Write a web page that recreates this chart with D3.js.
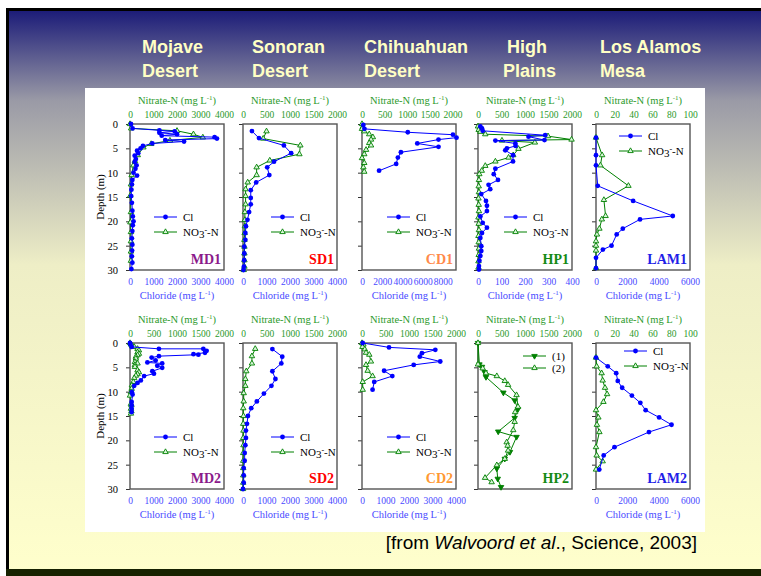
<!DOCTYPE html>
<html>
<head>
<meta charset="utf-8">
<script src="https://cdn.jsdelivr.net/npm/d3@7"></script>
<style>
  body { margin: 0; overflow: hidden; background: #fff; }
  svg { display: block; }
</style>
</head>
<body>
<svg id="slide" width="761" height="576"></svg>
<script>
// ---- data: [depth (m), concentration (mg/L)] ----
const depthTicks = [0, 5, 10, 15, 20, 25, 30];
const ticks4000 = [0, 1000, 2000, 3000, 4000];
const ticks2000 = [0, 500, 1000, 1500, 2000];
const ticks8000 = [0, 2000, 4000, 6000, 8000];
const ticks400 = [0, 100, 200, 300, 400];
const ticks6000 = [0, 2000, 4000, 6000];
const ticks100 = [0, 20, 40, 60, 80, 100];

const titles = [["Mojave", "Desert"], ["Sonoran", "Desert"], ["Chihuahuan", "Desert"], ["High", "Plains"], ["Los Alamos", "Mesa"]];

const md1Cl = [[0,40],[0.9,110],[1.3,1250],[1.5,1900],[1.8,1250],[2.1,2000],[2.4,1350],[2.7,3600],[3.0,3700],[3.3,1500],[3.6,2300],[4.0,950],[4.5,550],[5.0,450],[5.5,300],[6.0,350],[6.5,200],[7.2,250],[7.8,200],[8.5,280],[9.2,230],[10.0,150],[10.6,300],[11.5,100],[12.4,80],[13.5,60],[14.8,50],[16.2,80],[17.8,100],[19.0,120],[20.0,150],[20.8,120],[22.0,100],[23.5,80],[24.8,100],[26.0,90],[27.2,80],[28.5,100],[29.8,60]];
const md1No3 = [[0,0],[0.9,50],[1.4,2000],[2.1,2700],[2.75,3100],[3.4,1700],[4.1,900],[4.8,570],[6.4,330],[7.6,210],[8.5,140],[10.5,70],[12.4,40],[14.7,15],[18.1,40],[20.2,15],[22.2,40],[24.1,40],[26.2,40],[28.1,40]];

const sd1Cl = [[1.45,380],[2.9,680],[4.4,1740],[6.0,2050],[7.75,1320],[8.9,1030],[10.5,1120],[12.0,560],[13.6,330],[15.2,330],[16.5,330],[18.1,260],[19.7,190],[21.0,125],[22.4,100],[23.8,100],[25.2,55],[26.6,55],[28.0,50],[29.3,40],[30,20]];
const sd1No3 = [[1.5,500],[3.0,430],[4.4,1220],[6.2,1200],[7.5,570],[8.9,290],[10.5,290],[12.0,100],[13.4,55],[14.8,55],[16.5,55],[18.1,40],[19.7,40],[21.0,40],[22.4,35],[23.8,30],[25.2,30],[26.6,30],[28.0,30],[29.3,30],[30,15]];

const cd1Cl = [[0.2,130],[1.0,240],[1.7,4530],[2.2,9000],[2.8,9350],[3.2,7570],[4.0,5470],[4.7,7570],[5.8,3850],[6.9,3550],[8.2,3380],[9.6,1690]];
const cd1No3 = [[0,0],[0.6,15],[1.0,0],[1.5,50],[2.1,160],[2.7,240],[3.2,200],[3.9,160],[4.4,200],[5.3,90],[6.2,50],[7.0,0],[8.0,50],[8.9,30],[9.8,50]];

const hp1Cl = [[0.5,10],[0.9,17],[1.4,20],[2.3,286],[2.6,215],[3.3,283],[3.4,74],[4.0,159],[4.5,160],[5.0,123],[5.4,116],[6.4,149],[7.7,149],[9.2,74],[10.3,67],[11.5,85],[12.5,45],[13.4,52],[14.4,14],[15.8,34],[16.8,38],[17.9,38],[19.0,10],[20.3,20],[21.3,38],[22.4,17],[23.4,10],[25.1,14],[26.1,14],[27.1,10],[28.1,6],[29.2,4],[29.9,4]];
const hp1No3 = [[0.5,0],[1.2,15],[1.6,50],[2.1,155],[2.5,1490],[3.2,1990],[3.4,510],[3.8,1210],[5.1,860],[6.4,750],[6.9,650],[7.7,370],[8.6,155],[9.6,80],[10.3,28],[11.5,20],[12.8,15],[14.0,20],[15.3,10],[16.6,15],[17.9,20],[19.2,10],[20.5,15],[21.8,20],[23.0,10],[24.3,15],[25.6,20],[26.9,15],[28.2,10],[29.5,10]];

const lam1Cl = [[2.8,0],[6.4,0],[8.5,0],[12.7,110],[15.8,2370],[18.9,4900],[19.6,2810],[21.5,1710],[22.7,1320],[25.0,990],[25.8,440],[27.5,0],[29.6,0]];
const lam1No3 = [[2.8,0],[6.4,6.5],[8.5,4.7],[12.7,34.5],[15.6,8.4],[18.9,10.2],[19.6,6.2],[21.5,3.6],[22.7,1],[24.1,0],[25.0,0],[26.0,0],[29.6,0]];

const md2Cl = [[0,0],[0.3,20],[0.8,70],[1.2,1230],[1.2,3120],[1.6,3260],[2.0,3190],[2.3,2700],[2.4,2910],[2.7,1230],[3.0,920],[3.6,1090],[4.0,740],[4.2,1370],[4.7,1160],[5.1,1370],[5.8,950],[6.3,1020],[6.8,600],[7.7,460],[8.2,320],[8.8,180],[10.1,80],[10.6,110],[12.1,70],[12.8,70],[13.5,70],[14.2,70]];
const md2No3 = [[0,0],[0.3,20],[0.6,50],[0.8,90],[1.2,160],[1.5,190],[1.9,160],[2.2,190],[2.5,160],[2.8,125],[3.2,125],[3.9,105],[4.2,160],[4.5,105],[4.9,105],[5.6,160],[6.0,190],[6.4,160],[6.7,125],[7.2,90],[8.0,70],[8.7,40],[9.4,35],[10.1,20],[10.8,0],[12.5,20],[12.8,30],[13.5,20],[14.0,30],[14.5,20]];

const sd2Cl = [[1.25,1250],[2.8,1670],[4.2,1630],[5.8,1250],[7.4,1380],[8.8,1210],[10.4,890],[12.0,590],[13.4,350],[15.0,210],[16.6,170],[18.0,125],[19.5,125],[21.0,100],[22.6,70],[24.2,70],[25.7,30],[27.2,30],[28.7,30],[30,0]];
const sd2No3 = [[1.2,260],[2.7,190],[4.2,190],[5.8,70],[7.4,50],[8.8,50],[10.3,15],[12.0,15],[13.4,5],[15.0,10],[16.6,5],[18.0,10],[19.5,5],[21.0,10],[22.6,5],[24.2,5],[25.7,5],[27.2,5],[28.7,5],[30,0]];

const cd2Cl = [[0,30],[0.9,1150],[1.4,3120],[2.1,2550],[2.8,2460],[3.8,3330],[4.5,2200],[5.7,940],[6.8,1290],[8.0,520],[9.6,450]];
const cd2No3 = [[0,0],[0.3,30],[0.8,10],[1.3,60],[2.0,85],[2.4,155],[3.8,190],[4.5,85],[5.7,120],[6.8,225],[8.0,15],[9.6,15]];

const hp2S1 = [[0,0],[4.4,30],[4.9,85],[6.0,140],[7.0,170],[10.2,540],[11.8,780],[13.6,850],[15.4,780],[18.2,430],[19.3,820],[22.4,680],[23.8,570],[25.8,400],[27.9,420],[29.6,490]];
const hp2S2 = [[0,0],[4.4,0],[5.2,100],[6.2,170],[6.8,400],[7.8,570],[8.6,640],[10.7,820],[13.1,850],[14.2,790],[16.2,780],[17.9,750],[20.4,610],[21.1,630],[22.1,640],[23.8,570],[25.1,400],[27.7,150],[28.6,290]];

const lam2Cl = [[3.0,0],[4.8,750],[6.2,1290],[7.8,1390],[9.2,1670],[10.8,2290],[12.3,2830],[13.8,3170],[15.3,4030],[16.8,4820],[18.3,3380],[21.4,1180],[23.1,490],[26.0,210]];
const lam2No3 = [[3.0,0],[4.8,0.7],[6.2,6],[7.7,7.1],[9.2,9.6],[10.5,11.8],[12.1,7.9],[13.8,0],[15.3,2.5],[16.8,1],[18.3,3.6],[21.4,0],[23.1,0.7],[24.3,7.1],[26.0,0]];

// ---- layout ----
const colX = [130, 243, 362, 478, 596];
const rowY = [124, 343];
const PW = 94, PH = 146;
const CL_COLOR = "#0000ff", NO3_COLOR = "#008000";
const SERIF = "'Liberation Serif', 'Times New Roman', serif";
const SANS = "'Liberation Sans', Arial, sans-serif";
const fmt = d3.format("d");

const panels = [
  { name: "MD1", col: 0, row: 0, cl: md1Cl, no3: md1No3, clMax: 4000, clTicks: ticks4000, no3Max: 4000, no3Ticks: ticks4000, color: "#8b1a8b", leg: [24, 93] },
  { name: "SD1", col: 1, row: 0, cl: sd1Cl, no3: sd1No3, clMax: 4000, clTicks: ticks4000, no3Max: 2000, no3Ticks: ticks2000, color: "#ff0000", leg: [28, 93] },
  { name: "CD1", col: 2, row: 0, cl: cd1Cl, no3: cd1No3, clMax: 9300, clTicks: ticks8000, no3Max: 2080, no3Ticks: ticks2000, color: "#ff8a4a", leg: [25, 93] },
  { name: "HP1", col: 3, row: 0, cl: hp1Cl, no3: hp1No3, clMax: 400, clTicks: ticks400, no3Max: 2000, no3Ticks: ticks2000, color: "#138a13", leg: [26, 93] },
  { name: "LAM1", col: 4, row: 0, cl: lam1Cl, no3: lam1No3, clMax: 6000, clTicks: ticks6000, no3Max: 100, no3Ticks: ticks100, color: "#1f1fe8", leg: [23, 12] },
  { name: "MD2", col: 0, row: 1, cl: md2Cl, no3: md2No3, clMax: 4000, clTicks: ticks4000, no3Max: 2000, no3Ticks: ticks2000, color: "#8b1a8b", leg: [24, 94] },
  { name: "SD2", col: 1, row: 1, cl: sd2Cl, no3: sd2No3, clMax: 4000, clTicks: ticks4000, no3Max: 2000, no3Ticks: ticks2000, color: "#ff0000", leg: [28, 94] },
  { name: "CD2", col: 2, row: 1, cl: cd2Cl, no3: cd2No3, clMax: 4000, clTicks: ticks4000, no3Max: 2000, no3Ticks: ticks2000, color: "#ff9933", leg: [25, 94] },
  { name: "HP2", col: 3, row: 1, s1: hp2S1, s2: hp2S2, no3Max: 2000, no3Ticks: ticks2000, color: "#138a13", leg: [45, 13] },
  { name: "LAM2", col: 4, row: 1, cl: lam2Cl, no3: lam2No3, clMax: 6000, clTicks: ticks6000, no3Max: 100, no3Ticks: ticks100, color: "#1f1fe8", leg: [28, 8] }
];

const svg = d3.select("#slide");

// ---- slide background ----
const defs = svg.append("defs");
const grad = defs.append("linearGradient").attr("id", "bg").attr("x1", 0).attr("y1", 0).attr("x2", 0).attr("y2", 1);
grad.append("stop").attr("offset", "0%").attr("stop-color", "#1b1b78");
grad.append("stop").attr("offset", "16%").attr("stop-color", "#9a9aa6");
grad.append("stop").attr("offset", "45%").attr("stop-color", "#eeeec6");
grad.append("stop").attr("offset", "100%").attr("stop-color", "#ffffcc");

svg.append("rect").attr("x", 8).attr("y", 10).attr("width", 753).attr("height", 566).attr("fill", "url(#bg)");
svg.append("rect").attr("x", 6).attr("y", 8).attr("width", 755).attr("height", 3).attr("fill", "#000");
svg.append("rect").attr("x", 6).attr("y", 8).attr("width", 3).attr("height", 568).attr("fill", "#000");
svg.append("rect").attr("x", 6).attr("y", 569).attr("width", 755).attr("height", 7).attr("fill", "#172200");

// titles
const titleX = [[142, 142], [252, 252], [364, 364], [507, 503], [600, 600]];
titles.forEach((t, i) => {
  t.forEach((line, j) => {
    svg.append("text")
      .attr("x", titleX[i][j]).attr("y", 53 + j * 24)
      .attr("font-family", SANS).attr("font-size", 18).attr("font-weight", "bold")
      .attr("fill", "#ffffc4")
      .text(line);
  });
});

// white chart area
svg.append("rect").attr("x", 85).attr("y", 88).attr("width", 620).attr("height", 444).attr("fill", "#fff");

// footer
const foot = svg.append("text").attr("x", 697).attr("y", 549).attr("text-anchor", "end")
  .attr("font-family", SANS).attr("font-size", 19).attr("fill", "#000");
foot.append("tspan").text("[from ");
foot.append("tspan").attr("font-style", "italic").text("Walvoord et al");
foot.append("tspan").text("., Science, 2003]");

function unitLabel(sel, name) {
  sel.append("tspan").text(name + " (mg L");
  sel.append("tspan").attr("dy", -4).attr("font-size", 7).text("-1");
  sel.append("tspan").attr("dy", 4).text(")");
}

function no3Label(sel) {
  sel.append("tspan").text("NO");
  sel.append("tspan").attr("dy", 2).text("3");
  sel.append("tspan").attr("dy", -5).attr("font-size", 8).text("-");
  sel.append("tspan").attr("dy", 3).text("-N");
}

const tri = d3.symbol(d3.symbolTriangle, 13);

function drawPanel(p) {
  const g = svg.append("g").attr("transform", `translate(${colX[p.col]},${rowY[p.row]})`);
  const y = d3.scaleLinear().domain([0, 30]).range([0, PH]);
  const xN = d3.scaleLinear().domain([0, p.no3Max]).range([0, PW]);

  // left depth axis
  const ax = d3.axisLeft(y).tickValues(depthTicks).tickSize(4).tickPadding(8);
  if (p.col > 0) ax.tickFormat("");
  const ga = g.append("g").call(ax);
  ga.select(".domain").remove();
  ga.selectAll("line").attr("stroke", "#333");
  ga.selectAll("text").attr("font-family", SERIF).attr("font-size", 10.5).attr("fill", "#000");
  if (p.col === 0) {
    g.append("text").attr("transform", `translate(-26,${PH / 2}) rotate(-90)`)
      .attr("text-anchor", "middle").attr("font-family", SERIF).attr("font-size", 11)
      .text("Depth (m)");
  }

  // top nitrate axis
  const gt = g.append("g").call(d3.axisTop(xN).tickValues(p.no3Ticks).tickFormat(fmt).tickSize(0).tickPadding(6.5));
  gt.select(".domain").remove();
  gt.selectAll("text").attr("font-family", SERIF).attr("font-size", 9.5).attr("fill", "#2b9a2b");
  unitLabel(g.append("text").attr("x", PW / 2).attr("y", -20.5).attr("text-anchor", "middle")
    .attr("font-family", SERIF).attr("font-size", 10.5).attr("fill", "#2b9a2b"), "Nitrate-N");

  let xC = null;
  if (p.cl) {
    xC = d3.scaleLinear().domain([0, p.clMax]).range([0, PW]);
    const gb = g.append("g").attr("transform", `translate(0,${PH})`)
      .call(d3.axisBottom(xC).tickValues(p.clTicks).tickFormat(fmt).tickSize(0).tickPadding(8.5));
    gb.select(".domain").remove();
    gb.selectAll("text").attr("font-family", SERIF).attr("font-size", 9.5).attr("fill", "#4a4aff");
    unitLabel(g.append("text").attr("x", PW / 2).attr("y", PH + 29).attr("text-anchor", "middle")
      .attr("font-family", SERIF).attr("font-size", 10.5).attr("fill", "#4a4aff"), "Chloride");
  }

  // frame
  g.append("rect").attr("width", PW).attr("height", PH)
    .attr("fill", "none").attr("stroke", "#555").attr("stroke-width", 1.4);

  const lineN = d3.line().x(d => xN(d[1])).y(d => y(d[0]));

  function drawNo3(data, down, fill) {
    g.append("path").datum(data).attr("d", lineN)
      .attr("fill", "none").attr("stroke", NO3_COLOR).attr("stroke-width", 1);
    g.selectAll(null).data(data).join("path")
      .attr("d", tri)
      .attr("transform", d => `translate(${xN(d[1])},${y(d[0])})${down ? " rotate(180)" : ""}`)
      .attr("fill", fill).attr("stroke", NO3_COLOR).attr("stroke-width", 0.9);
  }

  if (p.cl) {
    drawNo3(p.no3, false, "#d8f5d8");
    const lineC = d3.line().x(d => xC(d[1])).y(d => y(d[0]));
    g.append("path").datum(p.cl).attr("d", lineC)
      .attr("fill", "none").attr("stroke", CL_COLOR).attr("stroke-width", 1);
    g.selectAll(null).data(p.cl).join("circle")
      .attr("cx", d => xC(d[1])).attr("cy", d => y(d[0])).attr("r", 2.4)
      .attr("fill", CL_COLOR);
  } else {
    drawNo3(p.s1, true, NO3_COLOR);
    drawNo3(p.s2, false, "#d8f5d8");
  }

  // legend
  const lg = g.append("g").attr("transform", `translate(${p.leg[0]},${p.leg[1]})`);
  const entries = p.cl
    ? [{ c: CL_COLOR, m: "circle", t: "Cl" }, { c: NO3_COLOR, m: "up", t: "no3" }]
    : [{ c: NO3_COLOR, m: "down", t: "(1)" }, { c: NO3_COLOR, m: "up", t: "(2)" }];
  const gap = p.cl ? 15 : 12;
  entries.forEach((e, i) => {
    const ey = i * gap;
    lg.append("line").attr("x1", 0).attr("x2", 23).attr("y1", ey).attr("y2", ey)
      .attr("stroke", e.c).attr("stroke-width", 1);
    if (e.m === "circle") {
      lg.append("circle").attr("cx", 11.5).attr("cy", ey).attr("r", 2.4).attr("fill", e.c);
    } else {
      lg.append("path").attr("d", tri)
        .attr("transform", `translate(11.5,${ey})${e.m === "down" ? " rotate(180)" : ""}`)
        .attr("fill", e.m === "down" ? NO3_COLOR : "#d8f5d8").attr("stroke", NO3_COLOR).attr("stroke-width", 0.9);
    }
    const tx = lg.append("text").attr("x", 29).attr("y", ey + 4)
      .attr("font-family", SERIF).attr("font-size", 11).attr("fill", "#000");
    if (e.t === "no3") no3Label(tx); else tx.text(e.t);
  });

  // panel label
  g.append("text").attr("x", PW - 3).attr("y", PH - 6).attr("text-anchor", "end")
    .attr("font-family", SERIF).attr("font-size", 14).attr("font-weight", "bold")
    .attr("fill", p.color).text(p.name);
}

panels.forEach(drawPanel);
</script>
</body>
</html>
